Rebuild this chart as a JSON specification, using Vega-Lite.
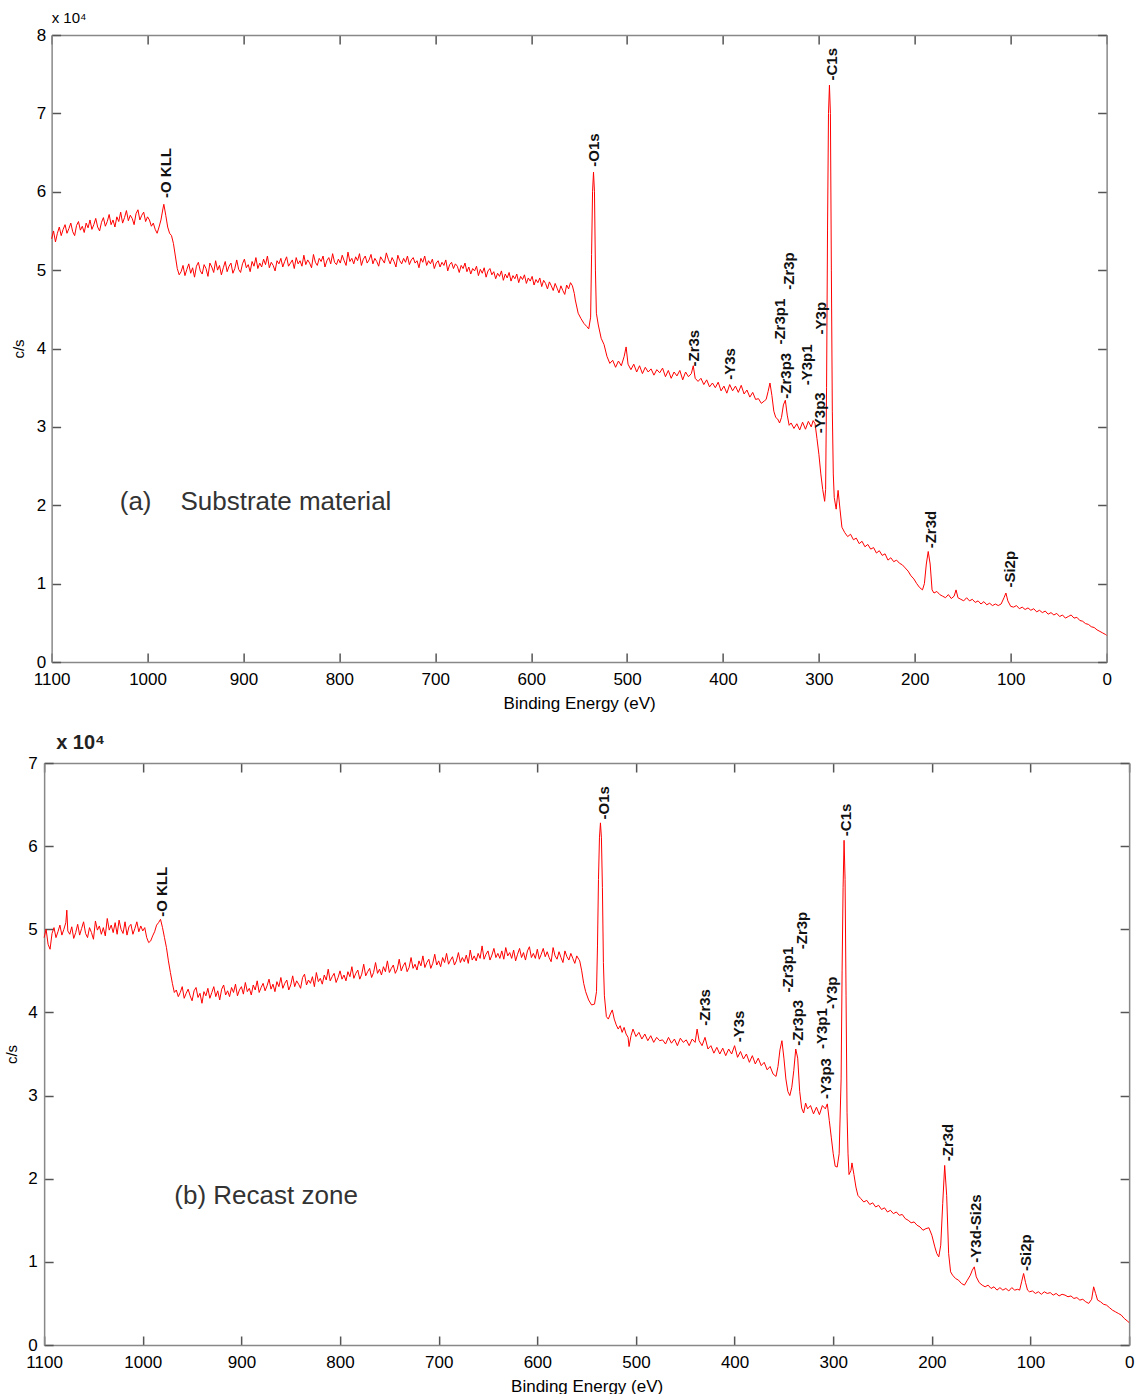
{
"$schema": "https://vega.github.io/schema/vega-lite/v6.json",
"padding": {"left": 4, "top": 11, "right": 3, "bottom": 0},
"background": "white",
"config": {"view": {"stroke": null}, "font": "Liberation Sans", "axis": {"grid": false, "labelFont": "Liberation Sans", "titleFont": "Liberation Sans", "labelColor": "#000", "titleColor": "#000", "labelOverlap": false, "labelBound": false, "labelFlush": false, "format": "d"}},
"spacing": 22,
"center": true,
"datasets": {
"a": [{"E":1100,"c":5.40},{"E":1098,"c":5.50},{"E":1096,"c":5.36},{"E":1094,"c":5.47},{"E":1092,"c":5.55},{"E":1090,"c":5.44},{"E":1088,"c":5.52},{"E":1086,"c":5.58},{"E":1084,"c":5.47},{"E":1082,"c":5.53},{"E":1080,"c":5.60},{"E":1078,"c":5.49},{"E":1076,"c":5.44},{"E":1074,"c":5.57},{"E":1072,"c":5.62},{"E":1070,"c":5.51},{"E":1068,"c":5.56},{"E":1066,"c":5.48},{"E":1064,"c":5.60},{"E":1062,"c":5.54},{"E":1060,"c":5.64},{"E":1058,"c":5.52},{"E":1056,"c":5.58},{"E":1054,"c":5.66},{"E":1052,"c":5.55},{"E":1050,"c":5.50},{"E":1048,"c":5.61},{"E":1046,"c":5.67},{"E":1044,"c":5.56},{"E":1042,"c":5.62},{"E":1040,"c":5.71},{"E":1038,"c":5.58},{"E":1036,"c":5.64},{"E":1034,"c":5.55},{"E":1032,"c":5.68},{"E":1030,"c":5.62},{"E":1028,"c":5.74},{"E":1026,"c":5.60},{"E":1024,"c":5.67},{"E":1022,"c":5.76},{"E":1020,"c":5.63},{"E":1018,"c":5.70},{"E":1016,"c":5.66},{"E":1014,"c":5.58},{"E":1012,"c":5.72},{"E":1010,"c":5.77},{"E":1008,"c":5.64},{"E":1006,"c":5.70},{"E":1004,"c":5.74},{"E":1002,"c":5.62},{"E":1000,"c":5.68},{"E":998,"c":5.64},{"E":996,"c":5.56},{"E":994,"c":5.60},{"E":992,"c":5.52},{"E":990,"c":5.47},{"E":988,"c":5.55},{"E":986,"c":5.64},{"E":984,"c":5.78},{"E":983,"c":5.84},{"E":981,"c":5.70},{"E":979,"c":5.55},{"E":977,"c":5.47},{"E":975,"c":5.44},{"E":973,"c":5.34},{"E":971,"c":5.18},{"E":969,"c":5.02},{"E":967,"c":4.94},{"E":965,"c":4.98},{"E":963,"c":5.06},{"E":961,"c":4.93},{"E":959,"c":5.01},{"E":957,"c":5.08},{"E":955,"c":4.96},{"E":953,"c":5.03},{"E":951,"c":4.91},{"E":949,"c":5.05},{"E":947,"c":5.10},{"E":945,"c":4.99},{"E":943,"c":4.95},{"E":941,"c":5.07},{"E":939,"c":5.02},{"E":937,"c":4.92},{"E":935,"c":5.09},{"E":933,"c":5.04},{"E":931,"c":4.97},{"E":929,"c":5.12},{"E":927,"c":5.00},{"E":925,"c":5.06},{"E":923,"c":4.94},{"E":921,"c":5.03},{"E":919,"c":5.11},{"E":917,"c":4.98},{"E":915,"c":5.05},{"E":913,"c":5.09},{"E":911,"c":4.96},{"E":909,"c":5.02},{"E":907,"c":5.13},{"E":905,"c":5.01},{"E":903,"c":4.97},{"E":901,"c":5.08},{"E":899,"c":5.14},{"E":897,"c":5.03},{"E":895,"c":5.07},{"E":893,"c":4.98},{"E":891,"c":5.11},{"E":889,"c":5.05},{"E":887,"c":5.16},{"E":885,"c":5.02},{"E":883,"c":5.09},{"E":881,"c":5.04},{"E":879,"c":5.14},{"E":877,"c":5.07},{"E":875,"c":5.18},{"E":873,"c":5.03},{"E":871,"c":5.10},{"E":869,"c":5.06},{"E":867,"c":4.99},{"E":865,"c":5.12},{"E":863,"c":5.08},{"E":861,"c":5.15},{"E":859,"c":5.04},{"E":857,"c":5.11},{"E":855,"c":5.17},{"E":853,"c":5.05},{"E":851,"c":5.09},{"E":849,"c":5.13},{"E":847,"c":5.02},{"E":845,"c":5.16},{"E":843,"c":5.08},{"E":841,"c":5.12},{"E":839,"c":5.05},{"E":837,"c":5.19},{"E":835,"c":5.07},{"E":833,"c":5.13},{"E":831,"c":5.09},{"E":829,"c":5.03},{"E":827,"c":5.20},{"E":825,"c":5.10},{"E":823,"c":5.06},{"E":821,"c":5.15},{"E":819,"c":5.11},{"E":817,"c":5.18},{"E":815,"c":5.04},{"E":813,"c":5.12},{"E":811,"c":5.16},{"E":809,"c":5.08},{"E":807,"c":5.21},{"E":805,"c":5.10},{"E":803,"c":5.07},{"E":801,"c":5.14},{"E":799,"c":5.09},{"E":797,"c":5.19},{"E":795,"c":5.12},{"E":793,"c":5.06},{"E":791,"c":5.23},{"E":789,"c":5.11},{"E":787,"c":5.15},{"E":785,"c":5.08},{"E":783,"c":5.17},{"E":781,"c":5.12},{"E":779,"c":5.21},{"E":777,"c":5.06},{"E":775,"c":5.14},{"E":773,"c":5.18},{"E":771,"c":5.09},{"E":769,"c":5.13},{"E":767,"c":5.20},{"E":765,"c":5.08},{"E":763,"c":5.15},{"E":761,"c":5.11},{"E":759,"c":5.05},{"E":757,"c":5.17},{"E":755,"c":5.13},{"E":753,"c":5.09},{"E":751,"c":5.22},{"E":749,"c":5.14},{"E":747,"c":5.08},{"E":745,"c":5.16},{"E":743,"c":5.11},{"E":741,"c":5.04},{"E":739,"c":5.19},{"E":737,"c":5.12},{"E":735,"c":5.08},{"E":733,"c":5.15},{"E":731,"c":5.10},{"E":729,"c":5.18},{"E":727,"c":5.07},{"E":725,"c":5.13},{"E":723,"c":5.16},{"E":721,"c":5.09},{"E":719,"c":5.12},{"E":717,"c":5.03},{"E":715,"c":5.15},{"E":713,"c":5.10},{"E":711,"c":5.18},{"E":709,"c":5.06},{"E":707,"c":5.12},{"E":705,"c":5.08},{"E":703,"c":5.14},{"E":701,"c":5.02},{"E":699,"c":5.09},{"E":697,"c":5.12},{"E":695,"c":5.04},{"E":693,"c":5.10},{"E":691,"c":5.06},{"E":689,"c":5.13},{"E":687,"c":4.99},{"E":685,"c":5.07},{"E":683,"c":5.10},{"E":681,"c":5.02},{"E":679,"c":5.08},{"E":677,"c":5.05},{"E":675,"c":4.97},{"E":673,"c":5.06},{"E":671,"c":5.02},{"E":669,"c":5.09},{"E":667,"c":4.98},{"E":665,"c":5.04},{"E":663,"c":4.95},{"E":661,"c":5.02},{"E":659,"c":4.99},{"E":657,"c":5.05},{"E":655,"c":4.93},{"E":653,"c":5.01},{"E":651,"c":4.96},{"E":649,"c":5.03},{"E":647,"c":4.91},{"E":645,"c":4.99},{"E":643,"c":5.02},{"E":641,"c":4.94},{"E":639,"c":4.98},{"E":637,"c":4.89},{"E":635,"c":4.96},{"E":633,"c":4.92},{"E":631,"c":4.99},{"E":629,"c":4.87},{"E":627,"c":4.95},{"E":625,"c":4.90},{"E":623,"c":4.97},{"E":621,"c":4.86},{"E":619,"c":4.93},{"E":617,"c":4.89},{"E":615,"c":4.95},{"E":613,"c":4.84},{"E":611,"c":4.92},{"E":609,"c":4.88},{"E":607,"c":4.94},{"E":605,"c":4.83},{"E":603,"c":4.90},{"E":601,"c":4.86},{"E":599,"c":4.92},{"E":597,"c":4.81},{"E":595,"c":4.88},{"E":593,"c":4.84},{"E":591,"c":4.90},{"E":589,"c":4.79},{"E":587,"c":4.87},{"E":585,"c":4.83},{"E":583,"c":4.76},{"E":581,"c":4.85},{"E":579,"c":4.80},{"E":577,"c":4.74},{"E":575,"c":4.83},{"E":573,"c":4.77},{"E":571,"c":4.71},{"E":569,"c":4.80},{"E":567,"c":4.74},{"E":565,"c":4.69},{"E":563,"c":4.81},{"E":561,"c":4.76},{"E":559,"c":4.84},{"E":557,"c":4.80},{"E":555,"c":4.70},{"E":554,"c":4.62},{"E":551,"c":4.45},{"E":548,"c":4.38},{"E":545,"c":4.32},{"E":542,"c":4.28},{"E":540,"c":4.25},{"E":538,"c":4.40},{"E":537,"c":5.2},{"E":536,"c":6.0},{"E":535,"c":6.25},{"E":534,"c":6.0},{"E":533,"c":5.0},{"E":532,"c":4.45},{"E":530,"c":4.30},{"E":527,"c":4.13},{"E":524,"c":4.05},{"E":521,"c":3.90},{"E":518,"c":3.81},{"E":515,"c":3.85},{"E":512,"c":3.76},{"E":509,"c":3.84},{"E":506,"c":3.78},{"E":503,"c":3.90},{"E":501,"c":4.02},{"E":499,"c":3.80},{"E":496,"c":3.73},{"E":493,"c":3.80},{"E":490,"c":3.70},{"E":487,"c":3.78},{"E":484,"c":3.68},{"E":481,"c":3.76},{"E":478,"c":3.70},{"E":475,"c":3.74},{"E":472,"c":3.66},{"E":469,"c":3.73},{"E":466,"c":3.69},{"E":463,"c":3.75},{"E":460,"c":3.64},{"E":457,"c":3.72},{"E":454,"c":3.62},{"E":451,"c":3.70},{"E":448,"c":3.65},{"E":445,"c":3.72},{"E":442,"c":3.60},{"E":439,"c":3.70},{"E":436,"c":3.64},{"E":433,"c":3.68},{"E":431,"c":3.78},{"E":429,"c":3.62},{"E":426,"c":3.58},{"E":423,"c":3.62},{"E":420,"c":3.54},{"E":417,"c":3.60},{"E":414,"c":3.51},{"E":411,"c":3.56},{"E":408,"c":3.50},{"E":405,"c":3.57},{"E":402,"c":3.46},{"E":399,"c":3.52},{"E":396,"c":3.43},{"E":393,"c":3.54},{"E":390,"c":3.46},{"E":387,"c":3.52},{"E":384,"c":3.44},{"E":381,"c":3.53},{"E":378,"c":3.42},{"E":375,"c":3.47},{"E":372,"c":3.38},{"E":369,"c":3.44},{"E":366,"c":3.35},{"E":363,"c":3.36},{"E":360,"c":3.30},{"E":357,"c":3.33},{"E":355,"c":3.35},{"E":353,"c":3.45},{"E":351,"c":3.56},{"E":349,"c":3.40},{"E":347,"c":3.20},{"E":345,"c":3.12},{"E":343,"c":3.10},{"E":341,"c":3.05},{"E":339,"c":3.12},{"E":337,"c":3.28},{"E":335,"c":3.34},{"E":333,"c":3.15},{"E":331,"c":3.02},{"E":329,"c":3.05},{"E":326,"c":2.98},{"E":323,"c":3.04},{"E":320,"c":2.96},{"E":317,"c":3.06},{"E":314,"c":2.97},{"E":311,"c":3.07},{"E":308,"c":3.00},{"E":306,"c":3.08},{"E":304,"c":3.04},{"E":302,"c":2.85},{"E":300,"c":2.65},{"E":298,"c":2.40},{"E":296,"c":2.20},{"E":294,"c":2.05},{"E":293,"c":2.2},{"E":292,"c":3.5},{"E":291,"c":5.5},{"E":290,"c":7.0},{"E":289,"c":7.36},{"E":288,"c":7.0},{"E":287,"c":5.0},{"E":286,"c":3.2},{"E":285,"c":2.4},{"E":284,"c":2.1},{"E":282,"c":1.95},{"E":280,"c":2.19},{"E":278,"c":1.95},{"E":276,"c":1.72},{"E":273,"c":1.65},{"E":270,"c":1.60},{"E":267,"c":1.63},{"E":264,"c":1.56},{"E":261,"c":1.58},{"E":258,"c":1.51},{"E":255,"c":1.54},{"E":252,"c":1.47},{"E":249,"c":1.50},{"E":246,"c":1.44},{"E":243,"c":1.46},{"E":240,"c":1.39},{"E":237,"c":1.42},{"E":234,"c":1.36},{"E":231,"c":1.38},{"E":228,"c":1.30},{"E":225,"c":1.33},{"E":222,"c":1.28},{"E":219,"c":1.30},{"E":216,"c":1.26},{"E":213,"c":1.24},{"E":210,"c":1.20},{"E":207,"c":1.16},{"E":204,"c":1.10},{"E":201,"c":1.06},{"E":198,"c":1.00},{"E":195,"c":0.95},{"E":192,"c":0.92},{"E":190,"c":1.00},{"E":188,"c":1.25},{"E":186,"c":1.41},{"E":184,"c":1.25},{"E":182,"c":0.92},{"E":180,"c":0.88},{"E":177,"c":0.90},{"E":174,"c":0.86},{"E":171,"c":0.84},{"E":168,"c":0.82},{"E":165,"c":0.86},{"E":162,"c":0.81},{"E":159,"c":0.84},{"E":157,"c":0.92},{"E":155,"c":0.82},{"E":152,"c":0.80},{"E":149,"c":0.78},{"E":146,"c":0.82},{"E":143,"c":0.78},{"E":140,"c":0.80},{"E":137,"c":0.76},{"E":134,"c":0.78},{"E":131,"c":0.74},{"E":128,"c":0.77},{"E":125,"c":0.73},{"E":122,"c":0.75},{"E":119,"c":0.72},{"E":116,"c":0.74},{"E":113,"c":0.72},{"E":110,"c":0.74},{"E":107,"c":0.82},{"E":105,"c":0.88},{"E":103,"c":0.78},{"E":100,"c":0.71},{"E":97,"c":0.70},{"E":94,"c":0.72},{"E":91,"c":0.68},{"E":88,"c":0.70},{"E":85,"c":0.67},{"E":82,"c":0.69},{"E":79,"c":0.66},{"E":76,"c":0.68},{"E":73,"c":0.64},{"E":70,"c":0.66},{"E":67,"c":0.63},{"E":64,"c":0.65},{"E":61,"c":0.61},{"E":58,"c":0.63},{"E":55,"c":0.60},{"E":52,"c":0.62},{"E":49,"c":0.58},{"E":46,"c":0.60},{"E":43,"c":0.56},{"E":40,"c":0.58},{"E":37,"c":0.60},{"E":34,"c":0.56},{"E":31,"c":0.57},{"E":28,"c":0.53},{"E":25,"c":0.52},{"E":22,"c":0.49},{"E":19,"c":0.48},{"E":16,"c":0.45},{"E":13,"c":0.44},{"E":10,"c":0.41},{"E":7,"c":0.39},{"E":4,"c":0.37},{"E":1,"c":0.35},{"E":0,"c":0.34}],
"b": [{"E":1100,"c":4.90},{"E":1098,"c":5.00},{"E":1096,"c":4.82},{"E":1094,"c":4.76},{"E":1092,"c":4.95},{"E":1090,"c":5.02},{"E":1088,"c":4.90},{"E":1086,"c":4.97},{"E":1084,"c":5.05},{"E":1082,"c":4.93},{"E":1080,"c":5.00},{"E":1078,"c":5.08},{"E":1077,"c":5.23},{"E":1076,"c":4.98},{"E":1074,"c":4.94},{"E":1072,"c":5.03},{"E":1070,"c":4.89},{"E":1068,"c":4.96},{"E":1066,"c":5.06},{"E":1064,"c":4.93},{"E":1062,"c":5.01},{"E":1060,"c":5.09},{"E":1058,"c":4.95},{"E":1056,"c":4.90},{"E":1054,"c":5.02},{"E":1052,"c":4.96},{"E":1050,"c":4.88},{"E":1048,"c":5.10},{"E":1046,"c":4.99},{"E":1044,"c":5.04},{"E":1042,"c":4.94},{"E":1040,"c":5.02},{"E":1038,"c":4.92},{"E":1036,"c":5.13},{"E":1034,"c":4.99},{"E":1032,"c":5.05},{"E":1030,"c":4.96},{"E":1028,"c":5.08},{"E":1026,"c":4.94},{"E":1024,"c":5.11},{"E":1022,"c":5.00},{"E":1020,"c":4.95},{"E":1018,"c":5.09},{"E":1016,"c":4.93},{"E":1014,"c":5.03},{"E":1012,"c":5.06},{"E":1010,"c":4.94},{"E":1008,"c":5.01},{"E":1006,"c":5.09},{"E":1004,"c":4.97},{"E":1002,"c":5.04},{"E":1000,"c":4.98},{"E":998,"c":5.02},{"E":996,"c":4.90},{"E":994,"c":4.84},{"E":992,"c":4.86},{"E":990,"c":4.92},{"E":988,"c":4.97},{"E":986,"c":5.05},{"E":984,"c":5.08},{"E":982,"c":5.12},{"E":980,"c":5.02},{"E":978,"c":4.90},{"E":976,"c":4.78},{"E":974,"c":4.62},{"E":972,"c":4.48},{"E":970,"c":4.35},{"E":968,"c":4.24},{"E":966,"c":4.27},{"E":964,"c":4.19},{"E":962,"c":4.24},{"E":960,"c":4.31},{"E":958,"c":4.17},{"E":956,"c":4.23},{"E":954,"c":4.28},{"E":952,"c":4.20},{"E":950,"c":4.14},{"E":948,"c":4.26},{"E":946,"c":4.30},{"E":944,"c":4.18},{"E":942,"c":4.23},{"E":940,"c":4.11},{"E":938,"c":4.25},{"E":936,"c":4.20},{"E":934,"c":4.29},{"E":932,"c":4.17},{"E":930,"c":4.24},{"E":928,"c":4.31},{"E":926,"c":4.19},{"E":924,"c":4.26},{"E":922,"c":4.15},{"E":920,"c":4.28},{"E":918,"c":4.33},{"E":916,"c":4.21},{"E":914,"c":4.26},{"E":912,"c":4.19},{"E":910,"c":4.30},{"E":908,"c":4.24},{"E":906,"c":4.34},{"E":904,"c":4.20},{"E":902,"c":4.27},{"E":900,"c":4.31},{"E":898,"c":4.22},{"E":896,"c":4.36},{"E":894,"c":4.25},{"E":892,"c":4.29},{"E":890,"c":4.21},{"E":888,"c":4.33},{"E":886,"c":4.27},{"E":884,"c":4.38},{"E":882,"c":4.24},{"E":880,"c":4.30},{"E":878,"c":4.35},{"E":876,"c":4.26},{"E":874,"c":4.32},{"E":872,"c":4.40},{"E":870,"c":4.28},{"E":868,"c":4.34},{"E":866,"c":4.25},{"E":864,"c":4.37},{"E":862,"c":4.31},{"E":860,"c":4.42},{"E":858,"c":4.29},{"E":856,"c":4.35},{"E":854,"c":4.39},{"E":852,"c":4.27},{"E":850,"c":4.33},{"E":848,"c":4.44},{"E":846,"c":4.31},{"E":844,"c":4.38},{"E":842,"c":4.34},{"E":840,"c":4.29},{"E":838,"c":4.42},{"E":836,"c":4.46},{"E":834,"c":4.33},{"E":832,"c":4.39},{"E":830,"c":4.35},{"E":828,"c":4.43},{"E":826,"c":4.31},{"E":824,"c":4.48},{"E":822,"c":4.37},{"E":820,"c":4.41},{"E":818,"c":4.34},{"E":816,"c":4.45},{"E":814,"c":4.39},{"E":812,"c":4.52},{"E":810,"c":4.38},{"E":808,"c":4.43},{"E":806,"c":4.47},{"E":804,"c":4.36},{"E":802,"c":4.42},{"E":800,"c":4.50},{"E":798,"c":4.40},{"E":796,"c":4.45},{"E":794,"c":4.38},{"E":792,"c":4.49},{"E":790,"c":4.43},{"E":788,"c":4.55},{"E":786,"c":4.41},{"E":784,"c":4.47},{"E":782,"c":4.51},{"E":780,"c":4.40},{"E":778,"c":4.46},{"E":776,"c":4.58},{"E":774,"c":4.44},{"E":772,"c":4.49},{"E":770,"c":4.53},{"E":768,"c":4.42},{"E":766,"c":4.48},{"E":764,"c":4.60},{"E":762,"c":4.47},{"E":760,"c":4.52},{"E":758,"c":4.45},{"E":756,"c":4.55},{"E":754,"c":4.49},{"E":752,"c":4.62},{"E":750,"c":4.48},{"E":748,"c":4.53},{"E":746,"c":4.57},{"E":744,"c":4.47},{"E":742,"c":4.52},{"E":740,"c":4.64},{"E":738,"c":4.50},{"E":736,"c":4.56},{"E":734,"c":4.60},{"E":732,"c":4.49},{"E":730,"c":4.54},{"E":728,"c":4.66},{"E":726,"c":4.53},{"E":724,"c":4.58},{"E":722,"c":4.51},{"E":720,"c":4.62},{"E":718,"c":4.56},{"E":716,"c":4.68},{"E":714,"c":4.54},{"E":712,"c":4.60},{"E":710,"c":4.64},{"E":708,"c":4.53},{"E":706,"c":4.59},{"E":704,"c":4.70},{"E":702,"c":4.57},{"E":700,"c":4.62},{"E":698,"c":4.55},{"E":696,"c":4.66},{"E":694,"c":4.60},{"E":692,"c":4.71},{"E":690,"c":4.58},{"E":688,"c":4.63},{"E":686,"c":4.67},{"E":684,"c":4.57},{"E":682,"c":4.62},{"E":680,"c":4.72},{"E":678,"c":4.60},{"E":676,"c":4.66},{"E":674,"c":4.61},{"E":672,"c":4.69},{"E":670,"c":4.59},{"E":668,"c":4.75},{"E":666,"c":4.63},{"E":664,"c":4.68},{"E":662,"c":4.62},{"E":660,"c":4.71},{"E":658,"c":4.65},{"E":656,"c":4.80},{"E":654,"c":4.64},{"E":652,"c":4.70},{"E":650,"c":4.74},{"E":648,"c":4.63},{"E":646,"c":4.69},{"E":644,"c":4.77},{"E":642,"c":4.66},{"E":640,"c":4.71},{"E":638,"c":4.65},{"E":636,"c":4.74},{"E":634,"c":4.64},{"E":632,"c":4.78},{"E":630,"c":4.68},{"E":628,"c":4.72},{"E":626,"c":4.65},{"E":624,"c":4.75},{"E":622,"c":4.62},{"E":620,"c":4.70},{"E":618,"c":4.77},{"E":616,"c":4.66},{"E":614,"c":4.72},{"E":612,"c":4.63},{"E":610,"c":4.74},{"E":608,"c":4.79},{"E":606,"c":4.66},{"E":604,"c":4.71},{"E":602,"c":4.65},{"E":600,"c":4.76},{"E":598,"c":4.64},{"E":596,"c":4.70},{"E":594,"c":4.77},{"E":592,"c":4.67},{"E":590,"c":4.73},{"E":588,"c":4.66},{"E":586,"c":4.61},{"E":584,"c":4.78},{"E":582,"c":4.68},{"E":580,"c":4.64},{"E":578,"c":4.73},{"E":576,"c":4.66},{"E":574,"c":4.60},{"E":572,"c":4.74},{"E":570,"c":4.67},{"E":568,"c":4.63},{"E":566,"c":4.71},{"E":564,"c":4.65},{"E":562,"c":4.59},{"E":560,"c":4.68},{"E":558,"c":4.64},{"E":557,"c":4.62},{"E":555,"c":4.50},{"E":553,"c":4.35},{"E":551,"c":4.25},{"E":548,"c":4.15},{"E":545,"c":4.09},{"E":542,"c":4.10},{"E":540,"c":4.25},{"E":539,"c":4.8},{"E":538,"c":5.6},{"E":537,"c":6.1},{"E":536,"c":6.28},{"E":535,"c":6.1},{"E":534,"c":5.5},{"E":533,"c":4.6},{"E":532,"c":4.2},{"E":530,"c":3.95},{"E":528,"c":3.92},{"E":526,"c":3.98},{"E":524,"c":4.03},{"E":522,"c":3.92},{"E":520,"c":3.85},{"E":518,"c":3.80},{"E":516,"c":3.84},{"E":514,"c":3.76},{"E":512,"c":3.82},{"E":510,"c":3.74},{"E":508,"c":3.70},{"E":507,"c":3.59},{"E":505,"c":3.72},{"E":503,"c":3.80},{"E":500,"c":3.71},{"E":497,"c":3.76},{"E":494,"c":3.68},{"E":491,"c":3.74},{"E":488,"c":3.66},{"E":485,"c":3.72},{"E":482,"c":3.64},{"E":479,"c":3.70},{"E":476,"c":3.66},{"E":473,"c":3.67},{"E":470,"c":3.62},{"E":467,"c":3.70},{"E":464,"c":3.63},{"E":461,"c":3.68},{"E":458,"c":3.60},{"E":455,"c":3.69},{"E":452,"c":3.64},{"E":449,"c":3.67},{"E":446,"c":3.60},{"E":443,"c":3.68},{"E":440,"c":3.64},{"E":438,"c":3.80},{"E":436,"c":3.66},{"E":433,"c":3.60},{"E":430,"c":3.70},{"E":427,"c":3.56},{"E":424,"c":3.60},{"E":421,"c":3.51},{"E":418,"c":3.58},{"E":415,"c":3.50},{"E":412,"c":3.57},{"E":409,"c":3.48},{"E":406,"c":3.56},{"E":403,"c":3.50},{"E":400,"c":3.60},{"E":397,"c":3.46},{"E":394,"c":3.53},{"E":391,"c":3.44},{"E":388,"c":3.50},{"E":385,"c":3.40},{"E":382,"c":3.48},{"E":379,"c":3.38},{"E":376,"c":3.45},{"E":373,"c":3.36},{"E":370,"c":3.40},{"E":367,"c":3.31},{"E":364,"c":3.35},{"E":361,"c":3.26},{"E":358,"c":3.23},{"E":356,"c":3.35},{"E":354,"c":3.55},{"E":352,"c":3.66},{"E":350,"c":3.45},{"E":348,"c":3.20},{"E":346,"c":3.05},{"E":344,"c":3.00},{"E":342,"c":3.10},{"E":340,"c":3.30},{"E":338,"c":3.56},{"E":336,"c":3.45},{"E":334,"c":3.05},{"E":332,"c":2.85},{"E":330,"c":2.79},{"E":328,"c":2.91},{"E":326,"c":2.84},{"E":323,"c":2.88},{"E":320,"c":2.78},{"E":317,"c":2.86},{"E":314,"c":2.77},{"E":311,"c":2.88},{"E":308,"c":2.84},{"E":306,"c":2.90},{"E":304,"c":2.70},{"E":302,"c":2.50},{"E":300,"c":2.30},{"E":298,"c":2.15},{"E":296,"c":2.14},{"E":294,"c":2.30},{"E":292,"c":3.2},{"E":291,"c":4.5},{"E":290,"c":5.5},{"E":289,"c":6.07},{"E":288,"c":5.6},{"E":287,"c":4.2},{"E":286,"c":2.8},{"E":285,"c":2.3},{"E":284,"c":2.05},{"E":282,"c":2.10},{"E":281,"c":2.19},{"E":279,"c":2.05},{"E":277,"c":1.90},{"E":275,"c":1.80},{"E":272,"c":1.76},{"E":269,"c":1.72},{"E":266,"c":1.74},{"E":263,"c":1.69},{"E":260,"c":1.71},{"E":257,"c":1.66},{"E":254,"c":1.68},{"E":251,"c":1.63},{"E":248,"c":1.65},{"E":245,"c":1.60},{"E":242,"c":1.62},{"E":239,"c":1.58},{"E":236,"c":1.60},{"E":233,"c":1.56},{"E":230,"c":1.57},{"E":227,"c":1.52},{"E":224,"c":1.50},{"E":221,"c":1.47},{"E":218,"c":1.48},{"E":215,"c":1.44},{"E":212,"c":1.42},{"E":209,"c":1.38},{"E":206,"c":1.40},{"E":203,"c":1.41},{"E":200,"c":1.32},{"E":197,"c":1.18},{"E":195,"c":1.10},{"E":193,"c":1.06},{"E":191,"c":1.20},{"E":189,"c":1.70},{"E":187,"c":2.16},{"E":185,"c":1.80},{"E":183,"c":1.10},{"E":181,"c":0.88},{"E":179,"c":0.84},{"E":176,"c":0.80},{"E":173,"c":0.78},{"E":170,"c":0.74},{"E":167,"c":0.72},{"E":164,"c":0.78},{"E":161,"c":0.84},{"E":159,"c":0.90},{"E":157,"c":0.94},{"E":155,"c":0.82},{"E":152,"c":0.75},{"E":149,"c":0.72},{"E":146,"c":0.70},{"E":143,"c":0.72},{"E":140,"c":0.68},{"E":137,"c":0.70},{"E":134,"c":0.66},{"E":131,"c":0.69},{"E":128,"c":0.66},{"E":125,"c":0.68},{"E":122,"c":0.65},{"E":119,"c":0.69},{"E":116,"c":0.66},{"E":113,"c":0.67},{"E":111,"c":0.66},{"E":109,"c":0.76},{"E":107,"c":0.86},{"E":105,"c":0.75},{"E":103,"c":0.66},{"E":101,"c":0.64},{"E":98,"c":0.65},{"E":95,"c":0.62},{"E":92,"c":0.64},{"E":89,"c":0.61},{"E":86,"c":0.64},{"E":83,"c":0.62},{"E":80,"c":0.63},{"E":77,"c":0.60},{"E":74,"c":0.62},{"E":71,"c":0.59},{"E":68,"c":0.61},{"E":65,"c":0.60},{"E":62,"c":0.58},{"E":59,"c":0.59},{"E":56,"c":0.56},{"E":53,"c":0.57},{"E":50,"c":0.54},{"E":47,"c":0.55},{"E":44,"c":0.52},{"E":41,"c":0.50},{"E":38,"c":0.55},{"E":36,"c":0.70},{"E":34,"c":0.62},{"E":32,"c":0.54},{"E":29,"c":0.52},{"E":26,"c":0.49},{"E":23,"c":0.48},{"E":20,"c":0.45},{"E":17,"c":0.42},{"E":14,"c":0.40},{"E":11,"c":0.38},{"E":8,"c":0.36},{"E":5,"c":0.32},{"E":2,"c":0.29},{"E":0,"c":0.27}],
"la": [{"E":981,"c":5.92,"t":"-O KLL"},{"E":534,"c":6.32,"t":"-O1s"},{"E":286,"c":7.42,"t":"-C1s"},{"E":430.6,"c":3.77,"t":"-Zr3s"},{"E":393,"c":3.6,"t":"-Y3s"},{"E":341,"c":4.05,"t":"-Zr3p1"},{"E":331.5,"c":4.75,"t":"-Zr3p"},{"E":334,"c":3.36,"t":"-Zr3p3"},{"E":312.7,"c":3.53,"t":"-Y3p1"},{"E":297.5,"c":4.18,"t":"-Y3p"},{"E":298.5,"c":2.92,"t":"-Y3p3"},{"E":182.7,"c":1.45,"t":"-Zr3d"},{"E":101,"c":0.95,"t":"-Si2p"}],
"lb": [{"E":980.5,"c":5.15,"t":"-O KLL"},{"E":532,"c":6.32,"t":"-O1s"},{"E":286.6,"c":6.12,"t":"-C1s"},{"E":430,"c":3.84,"t":"-Zr3s"},{"E":396,"c":3.64,"t":"-Y3s"},{"E":345.4,"c":4.24,"t":"-Zr3p1"},{"E":331.8,"c":4.76,"t":"-Zr3p"},{"E":335.3,"c":3.6,"t":"-Zr3p3"},{"E":311,"c":3.56,"t":"-Y3p1"},{"E":300.8,"c":4.04,"t":"-Y3p"},{"E":307.5,"c":2.96,"t":"-Y3p3"},{"E":184,"c":2.21,"t":"-Zr3d"},{"E":155.4,"c":0.99,"t":"-Y3d-Si2s"},{"E":104.8,"c":0.89,"t":"-Si2p"}]
},
"vconcat": [
{
"width": 1055, "height": 627,
"title": {"text": "x 10⁴", "anchor": "start", "frame": "group", "fontSize": 15, "fontWeight": "normal", "offset": 0, "color": "#000"},
"resolve": {"axis": {"x": "independent", "y": "independent"}},
"layer": [
{"data": {"name": "a"}, "mark": {"type": "line", "color": "#ff0000", "strokeWidth": 1},
 "encoding": {
  "x": {"field": "E", "type": "quantitative", "scale": {"domain": [0, 1100], "reverse": true, "nice": false, "zero": false},
        "axis": {"orient": "bottom", "values": [0,100,200,300,400,500,600,700,800,900,1000,1100], "format": "d", "title": "Binding Energy (eV)", "titleFontSize": 17, "titleFontWeight": "normal", "titlePadding": 8, "labelFontSize": 17, "labelPadding": 18, "tickSize": -9, "tickColor": "#555", "tickWidth": 1.5, "domainColor": "#888", "domainWidth": 1.5}},
  "y": {"field": "c", "type": "quantitative", "scale": {"domain": [0, 8], "nice": false},
        "axis": {"orient": "left", "values": [0,1,2,3,4,5,6,7,8], "title": "c/s", "titleFontSize": 15, "titleFontWeight": "normal", "titlePadding": 10, "labelFontSize": 17, "labelPadding": 15, "tickSize": -9, "tickColor": "#555", "tickWidth": 1.5, "domainColor": "#888", "domainWidth": 1.5}}
 }},
{"data": {"name": "la"}, "mark": {"type": "text", "angle": 270, "align": "left", "baseline": "middle", "fontSize": 15, "fontWeight": "bold", "color": "#111"},
 "encoding": {
  "x": {"field": "E", "type": "quantitative", "scale": {"domain": [0, 1100], "reverse": true, "nice": false, "zero": false},
        "axis": {"orient": "top", "values": [0,100,200,300,400,500,600,700,800,900,1000,1100], "labels": false, "title": null, "tickSize": -9, "tickColor": "#555", "tickWidth": 1.5, "domainColor": "#888", "domainWidth": 1.5}},
  "y": {"field": "c", "type": "quantitative", "scale": {"domain": [0, 8], "nice": false},
        "axis": {"orient": "right", "values": [0,1,2,3,4,5,6,7,8], "labels": false, "title": "c/s", "titleColor": "#ffffff", "titleFontSize": 10, "titlePadding": 9, "tickSize": -9, "tickColor": "#555", "tickWidth": 1.5, "domainColor": "#888", "domainWidth": 1.5}},
  "text": {"field": "t", "type": "nominal"}
 }},
{"data": {"values": [{"E": 1029, "c": 2.04, "t": "(a)\u00a0\u00a0\u00a0\u00a0Substrate material"}]}, "mark": {"type": "text", "align": "left", "baseline": "middle", "fontSize": 26, "color": "#333"},
 "encoding": {
  "x": {"field": "E", "type": "quantitative", "scale": {"domain": [0, 1100], "reverse": true, "nice": false, "zero": false}, "axis": null},
  "y": {"field": "c", "type": "quantitative", "scale": {"domain": [0, 8], "nice": false}, "axis": null},
  "text": {"field": "t", "type": "nominal"}
 }}
]
},
{
"width": 1085, "height": 582,
"title": {"text": "x 10⁴", "anchor": "start", "frame": "group", "fontSize": 20, "fontWeight": "bold", "offset": 1, "dx": 12, "color": "#222"},
"resolve": {"axis": {"x": "independent", "y": "independent"}},
"layer": [
{"data": {"name": "b"}, "mark": {"type": "line", "color": "#ff0000", "strokeWidth": 1},
 "encoding": {
  "x": {"field": "E", "type": "quantitative", "scale": {"domain": [0, 1100], "reverse": true, "nice": false, "zero": false},
        "axis": {"orient": "bottom", "values": [0,100,200,300,400,500,600,700,800,900,1000,1100], "format": "d", "title": "Binding Energy (eV)", "titleFontSize": 17, "titleFontWeight": "normal", "titlePadding": 8, "labelFontSize": 17, "labelPadding": 18, "tickSize": -9, "tickColor": "#555", "tickWidth": 1.5, "domainColor": "#888", "domainWidth": 1.5}},
  "y": {"field": "c", "type": "quantitative", "scale": {"domain": [0, 7], "nice": false},
        "axis": {"orient": "left", "values": [0,1,2,3,4,5,6,7], "title": "c/s", "titleFontSize": 15, "titleFontWeight": "normal", "titlePadding": 8, "labelFontSize": 17, "labelPadding": 16, "tickSize": -9, "tickColor": "#555", "tickWidth": 1.5, "domainColor": "#888", "domainWidth": 1.5}}
 }},
{"data": {"name": "lb"}, "mark": {"type": "text", "angle": 270, "align": "left", "baseline": "middle", "fontSize": 15, "fontWeight": "bold", "color": "#111"},
 "encoding": {
  "x": {"field": "E", "type": "quantitative", "scale": {"domain": [0, 1100], "reverse": true, "nice": false, "zero": false},
        "axis": {"orient": "top", "values": [0,100,200,300,400,500,600,700,800,900,1000,1100], "labels": false, "title": null, "tickSize": -9, "tickColor": "#555", "tickWidth": 1.5, "domainColor": "#888", "domainWidth": 1.5}},
  "y": {"field": "c", "type": "quantitative", "scale": {"domain": [0, 7], "nice": false},
        "axis": {"orient": "right", "values": [0,1,2,3,4,5,6,7], "labels": false, "title": null, "tickSize": -9, "tickColor": "#555", "tickWidth": 1.5, "domainColor": "#888", "domainWidth": 1.5}},
  "text": {"field": "t", "type": "nominal"}
 }},
{"data": {"values": [{"E": 968, "c": 1.79, "t": "(b) Recast zone"}]}, "mark": {"type": "text", "align": "left", "baseline": "middle", "fontSize": 26, "color": "#333"},
 "encoding": {
  "x": {"field": "E", "type": "quantitative", "scale": {"domain": [0, 1100], "reverse": true, "nice": false, "zero": false}, "axis": null},
  "y": {"field": "c", "type": "quantitative", "scale": {"domain": [0, 7], "nice": false}, "axis": null},
  "text": {"field": "t", "type": "nominal"}
 }}
]
}
]
}
